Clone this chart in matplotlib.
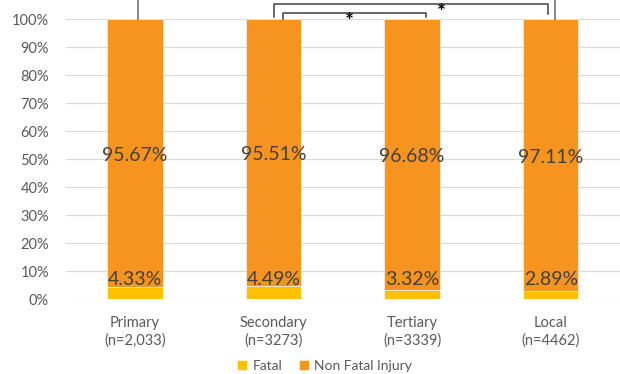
import matplotlib.pyplot as plt
import numpy as np

plt.rcParams['font.family'] = ['Lato', 'DejaVu Sans']

# injury outcome share by road class
categories = ["Primary\n(n=2,033)", "Secondary\n(n=3273)", "Tertiary\n(n=3339)", "Local\n(n=4462)"]
fatal = [4.33, 4.49, 3.32, 2.89]
non_fatal = [95.67, 95.51, 96.68, 97.11]

fatal_color = "#FFC000"
injury_color = "#F7941F"
text_color = "#595959"
label_color = "#404040"

fig = plt.figure(figsize=(6.2, 3.74), dpi=100)
ax = fig.add_axes([0.106, 0.2005, 0.894, 0.7485])

x = np.arange(len(categories))
width = 0.4
ax.bar(x, fatal, width, color=fatal_color, label="Fatal", zorder=3,
       edgecolor="white", linewidth=0.4)
ax.bar(x, non_fatal, width, bottom=fatal, color=injury_color,
       label="Non Fatal Injury", zorder=3, edgecolor="white", linewidth=0.4)

# value labels
for i in range(len(x)):
    ax.text(x[i], fatal[i] + non_fatal[i] / 2 - 0.8, f"{non_fatal[i]:.2f}%",
            ha="center", va="center", fontsize=14, color=label_color, zorder=4)
    ax.text(x[i], 7.1, f"{fatal[i]:.2f}%", ha="center", va="center",
            fontsize=14, color=label_color, zorder=4)

ax.set_xlim(-0.5, 3.5)
ax.set_ylim(0, 100)
ax.set_yticks(np.arange(0, 101, 10))
ax.set_yticklabels([f"{v}%" for v in range(0, 101, 10)])
ax.set_xticks(x)
ax.set_xticklabels(categories, linespacing=1.35)
ax.tick_params(axis="both", length=0, colors=text_color, labelsize=10.5)
ax.tick_params(axis="x", pad=12)
ax.tick_params(axis="y", pad=12)
ax.grid(axis="y", color="#D9D9D9", linewidth=0.8, zorder=0)
for s in ax.spines.values():
    s.set_visible(False)

# significance brackets above the bars
bk = dict(color="#404040", linewidth=1.1, clip_on=False, zorder=5)
ax.plot([1.0, 1.0, 2.98, 2.98], [100.7, 105.4, 105.4, 101.7], **bk)
ax.plot([1.07, 1.07, 2.10, 2.10], [100.2, 102.3, 102.3, 100.7], **bk)
ax.text(1.55, 98.9, "*", ha="center", va="center", fontsize=15,
        fontweight="bold", color="black", clip_on=False, zorder=6)
ax.text(2.21, 102.2, "*", ha="center", va="center", fontsize=15,
        fontweight="bold", color="black", clip_on=False, zorder=6)
vl = dict(color="#7F7F7F", linewidth=1.3, clip_on=False, zorder=5)
ax.plot([0.02, 0.02], [100, 107], **vl)
ax.plot([3.03, 3.03], [100, 107], **vl)

ax.legend(loc="lower center", bbox_to_anchor=(0.467, -0.305),
          ncol=2, frameon=False, fontsize=10, handlelength=0.7, handleheight=0.7,
          handletextpad=0.4, columnspacing=1.2, labelcolor=text_color)

fig.savefig("out.png", dpi=100)
